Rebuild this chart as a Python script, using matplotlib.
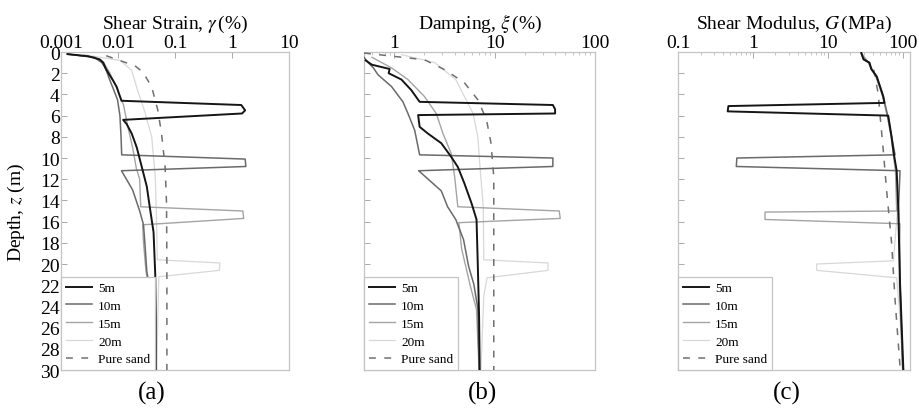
"""
Depth profiles of shear strain, damping and shear modulus for a sand
column with a soft layer at 5, 10, 15 and 20 m, against pure sand.
"""

import matplotlib
matplotlib.use('Agg')
import matplotlib.pyplot as plt
from matplotlib.ticker import FixedLocator, NullFormatter, LogLocator

plt.rcParams['font.family'] = ['Liberation Serif', 'DejaVu Serif']
plt.rcParams['mathtext.fontset'] = 'stix'

series_labels = ['5m', '10m', '15m', '20m', 'Pure sand']
depth_ticks = list(range(0, 31, 2))

# (a) shear strain, %
strain_5m_z = [0.2, 0.4, 0.7, 1.0, 1.5, 2.0, 2.7, 3.3, 4.0, 4.6, 5.0, 5.5, 5.8, 6.4, 6.8,
               7.7, 9.0, 10.8, 12.7, 14.6, 17.0, 21.0, 25.0, 30.0]
strain_5m = [0.0013, 0.003, 0.0048, 0.0055, 0.006, 0.0068, 0.0082, 0.0095, 0.0105, 0.0115,
             1.45, 1.7, 1.5, 0.0123, 0.0142, 0.0174, 0.0213, 0.026, 0.032, 0.036, 0.042,
             0.045, 0.046, 0.046]
strain_10m_z = [0.2, 0.5, 1.0, 1.5, 2.5, 3.5, 4.5, 6.0, 8.0, 9.7, 10.1, 10.8, 11.2, 13.0,
                15.0, 16.3, 18.5, 20.7, 24.0, 30.0]
strain_10m = [0.0013, 0.0038, 0.0052, 0.006, 0.007, 0.0083, 0.0098, 0.0108, 0.0113, 0.0116,
              1.7, 1.75, 0.0115, 0.018, 0.024, 0.028, 0.030, 0.032, 0.040, 0.045]
strain_15m_z = [0.2, 0.5, 1.0, 2.0, 3.0, 4.0, 5.0, 7.0, 9.0, 11.0, 12.0, 14.6, 15.0, 15.7,
                16.3, 18.0, 20.7, 24.0, 30.0]
strain_15m = [0.0013, 0.004, 0.0056, 0.0072, 0.0088, 0.0105, 0.0125, 0.0148, 0.018, 0.021,
              0.024, 0.025, 1.55, 1.6, 0.027, 0.028, 0.031, 0.040, 0.045]
strain_20m_z = [0.25, 0.8, 1.75, 3.6, 5.5, 8.0, 11.8, 15.0, 19.6, 19.9, 20.6, 21.2, 25.0, 30.0]
strain_20m = [0.0025, 0.011, 0.0174, 0.022, 0.029, 0.039, 0.045, 0.047, 0.049, 0.61, 0.6,
              0.052, 0.05, 0.048]
strain_sand_z = [0.35, 1.3, 1.9, 3.3, 5.5, 7.7, 10.8, 14.3, 20.0, 30.0]
strain_sand = [0.0062, 0.0198, 0.0274, 0.039, 0.05, 0.058, 0.067, 0.071, 0.072, 0.072]

# (b) damping, %
damp_5m_z = [0.8, 1.2, 1.6, 2.0, 2.6, 3.6, 4.7, 5.0, 5.4, 5.8, 5.95, 7.06, 7.7, 8.6, 9.9,
             10.85, 12.4, 14.3, 15.8, 20.2, 25.0, 30.0]
damp_5m = [0.52, 0.6, 0.9, 0.88, 1.18, 1.48, 1.79, 38, 40, 40, 1.73, 1.79, 2.17, 2.94, 3.7,
           4.3, 5.0, 5.9, 6.6, 6.8, 7.0, 7.1]
damp_10m_z = [0.5, 1.0, 1.5, 2.15, 3.26, 4.7, 5.8, 7.4, 9.7, 10.0, 10.8, 11.2, 13.1, 14.6,
              15.8, 17.7, 20.2, 21.9, 24.2, 30.0]
damp_10m = [0.5, 0.55, 0.62, 0.69, 0.94, 1.22, 1.37, 1.6, 1.79, 38, 38, 1.75, 2.94, 3.4,
            4.1, 4.9, 5.5, 6.2, 6.8, 7.0]
damp_15m_z = [0.5, 1.5, 2.6, 4.2, 5.8, 7.7, 9.6, 11.8, 14.6, 15.0, 15.7, 16.1, 18.6, 22.0,
              24.3, 30.0]
damp_15m = [0.6, 0.94, 1.37, 2.0, 2.62, 3.06, 3.7, 4.0, 4.3, 44, 45, 4.4, 4.7, 5.7, 6.6, 7.0]
damp_20m_z = [0.25, 1.0, 2.6, 4.2, 5.8, 8.0, 10.5, 14.6, 19.6, 19.9, 20.6, 21.3, 23.0, 30.0]
damp_20m = [1.18, 2.53, 4.1, 5.0, 6.1, 6.8, 7.1, 7.7, 7.8, 34, 34, 8.4, 7.8, 7.3]
damp_sand_z = [0.1, 0.25, 0.73, 1.68, 2.9, 4.5, 6.4, 8.6, 11.8, 20.0, 30.0]
damp_sand = [0.5, 0.7, 2.0, 3.2, 5.0, 6.8, 8.3, 9.2, 9.8, 9.8, 9.8]

# (c) shear modulus, MPa
mod_5m_z = [0.1, 0.7, 1.0, 1.6, 2.3, 3.3, 4.2, 4.8, 5.1, 5.6, 6.0, 8.0, 9.6, 11.2, 14.6,
            21.8, 30.0]
mod_5m = [28, 30, 36, 38, 45, 50, 55, 57, 0.47, 0.46, 64, 71, 76, 83, 87, 92, 102]
mod_10m_z = [0.1, 0.7, 1.0, 1.6, 2.3, 3.3, 4.2, 6.0, 8.0, 9.7, 10.0, 10.8, 11.2, 14.6,
             21.8, 30.0]
mod_10m = [28, 30, 35, 38, 44, 50, 55, 63, 71, 79, 0.61, 0.60, 92, 88, 92, 100]
mod_15m_z = [0.1, 1.0, 2.3, 4.2, 6.0, 8.0, 11.2, 15.0, 15.1, 15.8, 16.2, 21.8, 30.0]
mod_15m = [28, 35, 44, 54, 62, 70, 80, 83, 1.45, 1.45, 92, 90, 100]
mod_20m_z = [0.1, 1.0, 2.3, 4.2, 6.0, 8.0, 11.2, 14.6, 19.7, 20.0, 20.6, 21.3, 25.0, 30.0]
mod_20m = [28, 35, 44, 54, 62, 70, 80, 86, 75, 7.1, 7.1, 83, 92, 100]
mod_sand_z = [0.6, 1.0, 1.7, 3.9, 6.1, 9.3, 13.1, 18.0, 23.4, 29.7]
mod_sand = [30, 35, 41, 47, 50, 55, 61, 71, 79, 92]

strain_ticks = [0.001, 0.01, 0.1, 1, 10]
strain_tick_labels = ['0.001', '0.01', '0.1', '1', '10']
damp_ticks = [1, 10, 100]
damp_tick_labels = ['1', '10', '100']
mod_ticks = [0.1, 1, 10, 100]
mod_tick_labels = ['0.1', '1', '10', '100']

STYLES = [
    dict(color='#151515', lw=1.4, ls='-', zorder=5),
    dict(color='#6a6a6a', lw=1.1, ls='-', zorder=4),
    dict(color='#a4a4a4', lw=1.0, ls='-', zorder=3),
    dict(color='#d8d8d8', lw=0.9, ls='-', zorder=2),
    dict(color='#707070', lw=1.1, ls=(0, (4.5, 5.5)), zorder=3),
]
SPINE = '#c4c4c4'


def draw_panel(ax, profiles, xlim, ticks, tick_labels, title, tag, tag_x, show_depth):
    """Draw one depth profile panel on a log x axis."""
    for (z, v), label, style in zip(profiles, series_labels, STYLES):
        ax.plot(v, z, label=label, **style)

    ax.set_xscale('log')
    ax.set_xlim(*xlim)
    ax.set_ylim(30, 0)

    ax.xaxis.set_ticks_position('top')
    ax.xaxis.set_label_position('top')
    ax.xaxis.set_major_locator(FixedLocator(ticks))
    ax.set_xticklabels(tick_labels)
    ax.xaxis.set_minor_locator(LogLocator(base=10, subs=range(2, 10)))
    ax.xaxis.set_minor_formatter(NullFormatter())
    ax.tick_params(axis='x', which='major', direction='in', length=4, width=0.7,
                   color='#aaaaaa', labelsize=14, pad=1)
    ax.tick_params(axis='x', which='minor', direction='in', length=2, width=0.6,
                   color='#bbbbbb')

    ax.set_yticks(depth_ticks)
    ax.tick_params(axis='y', which='major', direction='in', length=4, width=0.7,
                   color='#aaaaaa', labelsize=14, pad=1, labelleft=show_depth)
    for sp in ax.spines.values():
        sp.set_color(SPINE)
        sp.set_linewidth(0.9)

    ax.set_title(title, fontsize=14, pad=4)
    if show_depth:
        ax.set_ylabel('Depth, $z$ (m)', fontsize=14, labelpad=9)

    leg = ax.legend(loc='lower left', borderaxespad=0, fontsize=9.5, fancybox=False,
                    framealpha=1, handlelength=2.0, handletextpad=0.45,
                    labelspacing=0.42, borderpad=0.35)
    leg.get_frame().set_edgecolor(SPINE)
    leg.get_frame().set_linewidth(0.9)

    ax.text(tag_x, -0.07, tag, transform=ax.transAxes, ha='center', va='center',
            fontsize=18)


def main(outpath='out.png'):
    fig = plt.figure(figsize=(9.19, 4.10), dpi=100)
    ax_a = fig.add_axes([0.0664, 0.0951, 0.2481, 0.7756])
    ax_b = fig.add_axes([0.3961, 0.0951, 0.2514, 0.7756])
    ax_c = fig.add_axes([0.7378, 0.0951, 0.2524, 0.7756])

    draw_panel(ax_a,
               [(strain_5m_z, strain_5m), (strain_10m_z, strain_10m),
                (strain_15m_z, strain_15m), (strain_20m_z, strain_20m),
                (strain_sand_z, strain_sand)],
               (0.001, 10), strain_ticks, strain_tick_labels,
               r'Shear Strain, $\gamma\,$(%)', '(a)', 0.40, True)
    draw_panel(ax_b,
               [(damp_5m_z, damp_5m), (damp_10m_z, damp_10m),
                (damp_15m_z, damp_15m), (damp_20m_z, damp_20m),
                (damp_sand_z, damp_sand)],
               (0.5, 100), damp_ticks, damp_tick_labels,
               r'Damping, $\xi\,$(%)', '(b)', 0.515, False)
    draw_panel(ax_c,
               [(mod_5m_z, mod_5m), (mod_10m_z, mod_10m),
                (mod_15m_z, mod_15m), (mod_20m_z, mod_20m),
                (mod_sand_z, mod_sand)],
               (0.1, 125), mod_ticks, mod_tick_labels,
               r'Shear Modulus, $G\,$(MPa)', '(c)', 0.47, False)

    fig.savefig(outpath, dpi=100)
    plt.close(fig)


if __name__ == '__main__':
    main()
